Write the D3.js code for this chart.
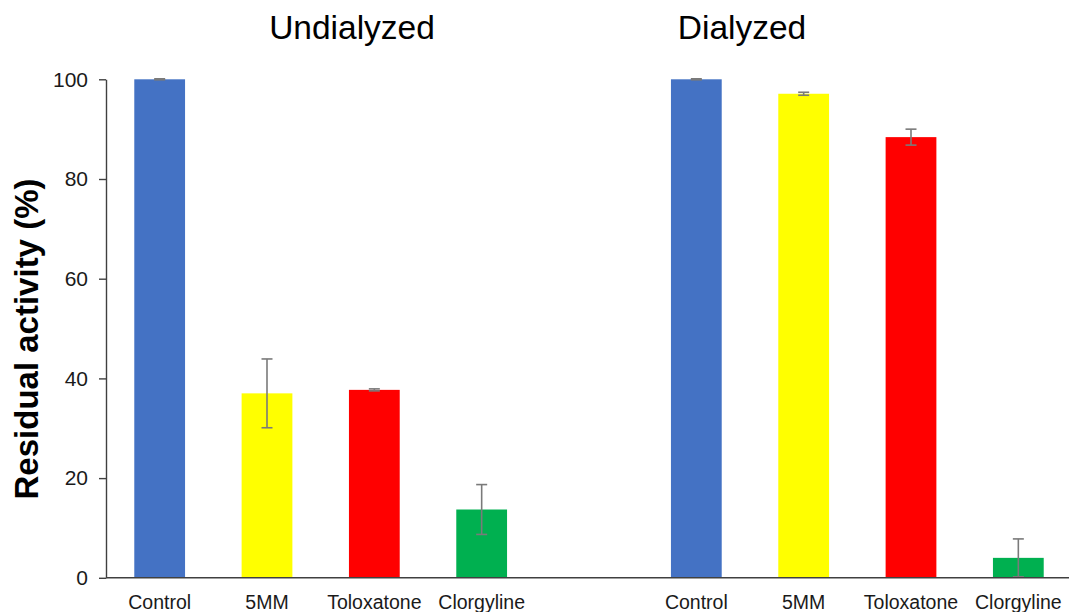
<!DOCTYPE html>
<html>
<head>
<meta charset="utf-8">
<script src="https://cdn.jsdelivr.net/npm/d3@7/dist/d3.min.js"></script>
<style>
  html, body { margin: 0; padding: 0; background: #fff; }
  svg { display: block; font-family: "Liberation Sans", Arial, sans-serif; }
</style>
</head>
<body>
<svg id="chart" width="1069" height="612"></svg>
<script>
// Treatments shown in each panel
const categories = ["Control", "5MM", "Toloxatone", "Clorgyline"];
const groups = ["Undialyzed", "Dialyzed"];

// Residual activity (%) and error (±)
const undialyzedValues = [100, 37.0, 37.7, 13.7];
const undialyzedErrors = [0.1, 6.9, 0.2, 5.0];
const dialyzedValues = [100, 97.1, 88.4, 4.0];
const dialyzedErrors = [0.1, 0.3, 1.6, 3.8];

const barColors = ["#4472C4", "#FFFF00", "#FF0000", "#00B050"];
const yTicks = [0, 20, 40, 60, 80, 100];

// Flatten into one row per bar; each group occupies 4 slots, with one empty slot between groups
const rows = [];
[[undialyzedValues, undialyzedErrors], [dialyzedValues, dialyzedErrors]].forEach(([vals, errs], g) => {
  categories.forEach((c, i) => {
    rows.push({ group: groups[g], category: c, value: vals[i], err: errs[i], color: barColors[i], slot: g * 5 + i });
  });
});

const svg = d3.select("#chart");
const plotLeft = 106, plotRight = 1072, plotTop = 79.3, plotBottom = 577.8;

const x = d3.scaleBand()
  .domain(d3.range(9))
  .range([plotLeft, plotRight])
  .paddingInner(0.527)
  .paddingOuter(0.2635);

const y = d3.scaleLinear().domain([0, 100]).range([plotBottom, plotTop]);

// Bars
svg.append("g").selectAll("rect")
  .data(rows)
  .join("rect")
  .attr("x", d => x(d.slot))
  .attr("width", x.bandwidth())
  .attr("y", d => y(d.value))
  .attr("height", d => y(0) - y(d.value))
  .attr("fill", d => d.color);

// Error bars
const eb = svg.append("g")
  .attr("stroke", "#7a7a7a")
  .attr("stroke-width", 1.6)
  .attr("fill", "none");
const cx = d => x(d.slot) + x.bandwidth() / 2;
const capHalf = 5.5;
eb.selectAll("line.stem").data(rows).join("line").attr("class", "stem")
  .attr("x1", cx).attr("x2", cx)
  .attr("y1", d => y(d.value + d.err)).attr("y2", d => y(Math.max(0, d.value - d.err)));
eb.selectAll("line.capTop").data(rows).join("line").attr("class", "capTop")
  .attr("x1", d => cx(d) - capHalf).attr("x2", d => cx(d) + capHalf)
  .attr("y1", d => y(d.value + d.err)).attr("y2", d => y(d.value + d.err));
eb.selectAll("line.capBot").data(rows).join("line").attr("class", "capBot")
  .attr("x1", d => cx(d) - capHalf).attr("x2", d => cx(d) + capHalf)
  .attr("y1", d => y(Math.max(0, d.value - d.err))).attr("y2", d => y(Math.max(0, d.value - d.err)));

// Y axis
const yAxis = svg.append("g")
  .attr("transform", `translate(${plotLeft},0)`)
  .call(d3.axisLeft(y).tickValues(yTicks).tickSize(7).tickSizeOuter(0).tickPadding(11));
yAxis.select(".domain").attr("stroke", "#404040").attr("stroke-width", 1.4);
yAxis.selectAll(".tick line").attr("stroke", "#404040").attr("stroke-width", 1.4);
yAxis.selectAll(".tick text")
  .attr("font-size", 21)
  .attr("font-family", "Liberation Sans, Arial, sans-serif")
  .attr("fill", "#1a1a1a");

// X baseline
svg.append("line")
  .attr("x1", plotLeft).attr("x2", 1069)
  .attr("y1", y(0)).attr("y2", y(0))
  .attr("stroke", "#404040").attr("stroke-width", 1.4);

// Category labels
svg.append("g").selectAll("text")
  .data(rows)
  .join("text")
  .attr("x", cx)
  .attr("y", 608.5)
  .attr("text-anchor", "middle")
  .attr("font-size", 19.5)
  .attr("fill", "#1a1a1a")
  .text(d => d.category);

// Panel titles
const titleX = [352, 742];
svg.append("g").selectAll("text")
  .data(groups)
  .join("text")
  .attr("x", (d, i) => titleX[i])
  .attr("y", 39)
  .attr("text-anchor", "middle")
  .attr("font-size", 33.5)
  .attr("fill", "#000")
  .text(d => d);

// Y axis title
svg.append("text")
  .attr("transform", "translate(38,339) rotate(-90)")
  .attr("text-anchor", "middle")
  .attr("font-size", 33)
  .attr("font-weight", "bold")
  .attr("fill", "#000")
  .text("Residual activity (%)");
</script>
</body>
</html>
